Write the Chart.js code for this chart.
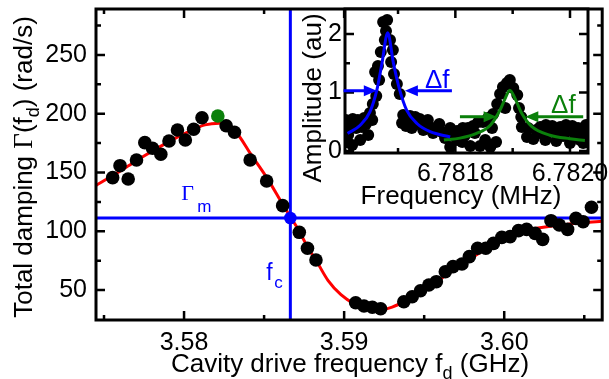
<!DOCTYPE html>
<html>
<head>
<meta charset="utf-8">
<script src="https://cdn.jsdelivr.net/npm/chart.js@4.4.0/dist/chart.umd.min.js"></script>
<style>
  html, body { margin: 0; padding: 0; background: #fff; }
  #wrap { position: relative; width: 609px; height: 379px; overflow: hidden; }
  #main { position: absolute; left: 0; top: 0; }
  #inset { position: absolute; left: 296px; top: 0; }
</style>
</head>
<body>
<div id="wrap">
  <canvas id="main" width="609" height="379"></canvas>
  <canvas id="inset" width="313" height="212"></canvas>
</div>
<script>
// ---- main panel: damping vs cavity drive frequency ----
const dampFreq = [3.57554, 3.57600, 3.57651, 3.57703, 3.57755, 3.57803, 3.57855, 3.57906, 3.57959, 3.58008,
  3.58060, 3.58112, 3.58263, 3.58315, 3.58413, 3.58516, 3.58616, 3.58720, 3.58771, 3.58824,
  3.59072, 3.59124, 3.59176, 3.59228, 3.59373, 3.59425, 3.59477, 3.59529, 3.59576, 3.59632,
  3.59680, 3.59736, 3.59782, 3.59834, 3.59885, 3.59933, 3.59985, 3.60037, 3.60089, 3.60140,
  3.60193, 3.60240, 3.60292, 3.60344, 3.60396, 3.60448, 3.60493, 3.60545];
const dampVal = [145.6, 155.8, 144.5, 160.6, 175.4, 170.6, 165.5, 176.8, 186.2, 177.7,
  186.8, 196.6, 189.8, 184.2, 160.6, 142.8, 121.8, 99.1, 85.5, 75.5,
  39.2, 36.4, 35.3, 34.1, 40.0, 44.3, 49.4, 54.3, 57.1, 65.6,
  69.9, 72.1, 78.4, 85.5, 85.5, 89.7, 94.8, 95.4, 100.5, 101.6,
  98.2, 93.1, 109.0, 105.3, 101.6, 111.0, 108.1, 120.4];
const maxFreq = [3.58211];
const maxVal = [198.1];
const fitFreq = [3.5745, 3.5755, 3.5765, 3.5775, 3.5785, 3.5795, 3.5805, 3.5813, 3.5822, 3.5832,
  3.5842, 3.5852, 3.5862, 3.5867, 3.5872, 3.5877, 3.5883, 3.5890, 3.5898, 3.5906,
  3.5914, 3.5922, 3.5930, 3.5938, 3.5946, 3.5955, 3.5965, 3.5975, 3.5985, 3.5995,
  3.6003, 3.6011, 3.6020, 3.6030, 3.6040, 3.6050, 3.6061];
const fitVal = [139, 147, 155.5, 164, 172, 179.5, 186, 190.5, 192, 185,
  165, 145, 122, 111, 100, 87, 74, 58, 46, 38.5,
  34.5, 33, 35.5, 40.5, 47, 54.5, 64, 73, 82, 90,
  96, 100, 102.5, 104.5, 106, 107.5, 108.5];
const fc = 3.58664;      // GHz
const gammaM = 111.3;    // rad/s
const xRange = [3.5745, 3.60612];
const yRange = [24.5, 289.1];
const xMajor = [3.58, 3.59, 3.60];
const xMinor = [3.575, 3.585, 3.595, 3.605];
const yMajor = [50, 100, 150, 200, 250];
const yMinor = [75, 125, 175, 225, 275];

// ---- inset: mechanical spectra ----
const specFreq = [6.781611, 6.781614, 6.781621, 6.781630, 6.781637, 6.781644, 6.781651, 6.781656, 6.781662, 6.781660,
  6.781665, 6.781670, 6.781674, 6.781681, 6.781679, 6.781691, 6.781688, 6.781693, 6.781698, 6.781703,
  6.781707, 6.781714, 6.781721, 6.781730, 6.781738, 6.781747, 6.781756, 6.781766, 6.781777, 6.781786,
  6.781794, 6.781803, 6.781812, 6.781791, 6.781609, 6.781803, 6.781813, 6.781822, 6.781831, 6.781843,
  6.781848, 6.781857, 6.781866, 6.781873, 6.781878, 6.781883, 6.781890, 6.781895, 6.781887, 6.781911,
  6.781915, 6.781916, 6.781925, 6.781936, 6.781948, 6.781958, 6.781969, 6.781983, 6.781993, 6.782004,
  6.782014, 6.782023, 6.782023, 6.782000, 6.781976, 6.781957, 6.781861, 6.781826, 6.781908, 6.781901,
  6.781677, 6.781667, 6.781686,
  6.781613, 6.781620, 6.781627, 6.781634, 6.781641, 6.781648, 6.781655, 6.781609, 6.781709, 6.781717,
  6.781724, 6.781735, 6.781744, 6.781752, 6.781761, 6.781772, 6.781782, 6.781791, 6.781799, 6.781817,
  6.781834, 6.781840, 6.781852, 6.781864, 6.781871, 6.781927, 6.781941, 6.781953, 6.781965, 6.781977,
  6.781988, 6.781997, 6.782009, 6.782018, 6.782028, 6.782028];
const specAmp = [0.154, 0.393, 0.547, 0.530, 0.410, 0.462, 0.650, 0.803, 0.940, 1.350,
  1.453, 1.692, 2.205, 2.239, 2.051, 1.726, 1.521, 1.316, 1.145, 0.974,
  0.479, 0.427, 0.598, 0.581, 0.547, 0.479, 0.410, 0.376, 0.325, 0.291,
  0.308, 0.188, 0.154, 0.068, 0.188, 0.342, 0.393, 0.393, 0.427, 0.085,
  0.496, 0.564, 0.632, 0.803, 0.974, 1.094, 1.162, 1.214, 0.735, 0.735,
  0.581, 0.410, 0.239, 0.205, 0.410, 0.444, 0.427, 0.410, 0.444, 0.427,
  0.393, 0.325, 0.137, 0.137, 0.171, 0.188, 0.068, 0.085, 0.957, 1.077,
  1.897, 1.214, 1.897,
  0.274, 0.103, 0.393, 0.188, 0.564, 0.274, 0.530, 0.530, 0.615, 0.513,
  0.393, 0.462, 0.359, 0.530, 0.308, 0.462, 0.222, 0.393, 0.256, 0.274,
  0.308, 0.496, 0.188, 0.393, 0.154, 0.393, 0.359, 0.291, 0.325, 0.308,
  0.256, 0.342, 0.274, 0.188, 0.444, 0.222];
const blueFitFreq = [6.781612, 6.781634, 6.781651, 6.781663, 6.781672, 6.781682, 6.781692, 6.781703, 6.781715, 6.781733, 6.781756, 6.781791];
const blueFitAmp = [0.30, 0.44, 0.67, 1.04, 1.50, 2.02, 1.50, 1.04, 0.70, 0.47, 0.33, 0.24];
const greenFitFreq = [6.781780, 6.781808, 6.781837, 6.781861, 6.781878, 6.781887, 6.781895, 6.781904, 6.781916, 6.781933, 6.781965, 6.782000, 6.782026];
const greenFitAmp = [0.19, 0.22, 0.30, 0.44, 0.70, 0.90, 1.04, 0.90, 0.64, 0.42, 0.27, 0.21, 0.18];
const insXRange = [6.7816075, 6.7820314];
const insYRange = [-0.034, 2.427];
const insXMajor = [6.7818, 6.7820];
const insXMinor = [6.7817, 6.7819];
const insYMajor = [0, 1, 2];
const insYMinor = [0.5, 1.5];

const SANS = '"Liberation Sans", Arial, sans-serif';
const SERIF = '"Liberation Serif", "Times New Roman", serif';
const BLUE = '#0000ff', RED = '#ff0000', GREEN = '#0b800b';

const pts = (xs, ys) => xs.map((x, i) => ({ x, y: ys[i] }));

// fixed axis box sizes, no extra label padding
const fixX = h => s => { s.height = h; s.paddingLeft = 0; s.paddingRight = 0; };
const fixY = w => s => { s.width = w; s.paddingTop = 0; s.paddingBottom = 0; };

// frame with inward ticks on all four sides
const frame = {
  id: 'frame',
  beforeDraw(chart, args, o) {
    if (!o.fill) return;
    const a = chart.chartArea, ctx = chart.ctx;
    ctx.save();
    ctx.fillStyle = '#fff';
    ctx.fillRect(a.left, a.top, a.right - a.left, a.bottom - a.top);
    ctx.restore();
  },
  afterDatasetsDraw(chart, args, o) {
    const a = chart.chartArea, ctx = chart.ctx;
    const xs = chart.scales.x, ys = chart.scales.y;
    ctx.save();
    ctx.strokeStyle = '#000';
    ctx.lineWidth = 2.5;
    const xt = (vals, len) => vals.forEach(v => {
      const p = xs.getPixelForValue(v);
      ctx.beginPath();
      ctx.moveTo(p, a.bottom); ctx.lineTo(p, a.bottom - len);
      ctx.moveTo(p, a.top); ctx.lineTo(p, a.top + len);
      ctx.stroke();
    });
    const yt = (vals, len) => vals.forEach(v => {
      const p = ys.getPixelForValue(v);
      ctx.beginPath();
      ctx.moveTo(a.left, p); ctx.lineTo(a.left + len, p);
      ctx.moveTo(a.right, p); ctx.lineTo(a.right - len, p);
      ctx.stroke();
    });
    xt(o.xMajor, o.major); xt(o.xMinor, o.minor);
    yt(o.yMajor, o.major); yt(o.yMinor, o.minor);
    ctx.lineWidth = 3;
    ctx.strokeRect(a.left, a.top, a.right - a.left, a.bottom - a.top);
    ctx.restore();
  }
};

// text drawn in pieces so subscripts work
function drawParts(ctx, parts, x, y, rot) {
  ctx.save();
  ctx.translate(x, y);
  if (rot) ctx.rotate(rot);
  ctx.textBaseline = 'alphabetic';
  ctx.textAlign = 'left';
  let w = 0;
  parts.forEach(p => { ctx.font = p.font; p.w = ctx.measureText(p.t).width; w += p.w; });
  let cx = -w / 2;
  parts.forEach(p => {
    ctx.font = p.font;
    ctx.fillStyle = p.color || '#000';
    ctx.fillText(p.t, cx, p.dy || 0);
    cx += p.w;
  });
  ctx.restore();
}

const texts = {
  id: 'texts',
  afterDraw(chart, args, o) {
    o.items.forEach(it => drawParts(chart.ctx, it.parts, it.x, it.y, it.rot));
    if (o.extra) o.extra(chart);
  }
};

const T = '26px ' + SANS, TS = '18px ' + SANS;

new Chart(document.getElementById('main'), {
  type: 'scatter',
  data: {
    datasets: [
      { data: pts([fc], [gammaM]), pointRadius: 6.3, backgroundColor: BLUE, borderWidth: 0, order: 0 },
      { data: pts(maxFreq, maxVal), pointRadius: 6.8, backgroundColor: GREEN, borderWidth: 0, order: 1 },
      { data: pts(dampFreq, dampVal), pointRadius: 6.8, backgroundColor: '#000', borderWidth: 0, order: 2 },
      { data: pts(fitFreq, fitVal), showLine: true, pointRadius: 0, borderColor: RED, borderWidth: 3,
        cubicInterpolationMode: 'monotone', order: 3 },
      { data: [{ x: fc, y: yRange[0] }, { x: fc, y: yRange[1] }], showLine: true, pointRadius: 0,
        borderColor: BLUE, borderWidth: 3, order: 4 },
      { data: [{ x: xRange[0], y: gammaM }, { x: xRange[1], y: gammaM }], showLine: true, pointRadius: 0,
        borderColor: BLUE, borderWidth: 3, order: 4 }
    ]
  },
  options: {
    responsive: false,
    animation: false,
    events: [],
    layout: { padding: { top: 9, right: 3, left: 0, bottom: 0 } },
    scales: {
      x: {
        type: 'linear', min: xRange[0], max: xRange[1],
        grid: { display: false, drawTicks: false }, border: { display: false },
        afterBuildTicks: s => { s.ticks = xMajor.map(v => ({ value: v })); },
        afterFit: fixX(59),
        ticks: { font: { family: SANS, size: 25 }, color: '#000', padding: 8, maxRotation: 0,
          callback: v => v.toFixed(2) }
      },
      y: {
        min: yRange[0], max: yRange[1],
        grid: { display: false, drawTicks: false }, border: { display: false },
        afterBuildTicks: s => { s.ticks = yMajor.map(v => ({ value: v })); },
        afterFit: fixY(96),
        ticks: { font: { family: SANS, size: 25 }, color: '#000', padding: 9 }
      }
    },
    plugins: {
      legend: { display: false },
      tooltip: { enabled: false },
      frame: { xMajor, xMinor, yMajor, yMinor, major: 9, minor: 5 },
      texts: {
        items: [
          { x: 350, y: 372, parts: [
            { t: 'Cavity drive frequency f', font: T },
            { t: 'd', font: TS, dy: 7 },
            { t: ' (GHz)', font: T } ] },
          { x: 32, y: 167, rot: -Math.PI / 2, parts: [
            { t: 'Total damping ', font: T },
            { t: 'Γ', font: '27px ' + SERIF },
            { t: '(f', font: T },
            { t: 'd', font: TS, dy: 7 },
            { t: ') (rad/s)', font: T } ] }
        ],
        extra: chart => {
          const ctx = chart.ctx, xs = chart.scales.x, ys = chart.scales.y;
          const px = xs.getPixelForValue(fc), py = ys.getPixelForValue(gammaM);
          ctx.save();
          ctx.fillStyle = BLUE;
          ctx.textBaseline = 'alphabetic';
          ctx.font = '22px ' + SERIF;
          ctx.fillText('Γ', px - 109, py - 18);
          ctx.font = '17px ' + SANS;
          ctx.fillText('m', px - 93, py - 6);
          ctx.font = '23px ' + SANS;
          ctx.fillText('f', px - 24, py + 62);
          ctx.font = '17px ' + SANS;
          ctx.fillText('c', px - 16, py + 70);
          ctx.restore();
        }
      }
    }
  },
  plugins: [frame, texts]
});

// arrows marking the linewidths
function arrow(ctx, x0, x1, y, color) {
  const dir = Math.sign(x1 - x0);
  ctx.strokeStyle = color; ctx.fillStyle = color; ctx.lineWidth = 3;
  ctx.beginPath(); ctx.moveTo(x0, y); ctx.lineTo(x1 - dir * 10, y); ctx.stroke();
  ctx.beginPath();
  ctx.moveTo(x1, y); ctx.lineTo(x1 - dir * 13, y - 5.5); ctx.lineTo(x1 - dir * 13, y + 5.5);
  ctx.closePath(); ctx.fill();
}

new Chart(document.getElementById('inset'), {
  type: 'scatter',
  data: {
    datasets: [
      { data: pts(blueFitFreq, blueFitAmp), showLine: true, pointRadius: 0, borderColor: BLUE, borderWidth: 3,
        cubicInterpolationMode: 'monotone', order: 0 },
      { data: pts(greenFitFreq, greenFitAmp), showLine: true, pointRadius: 0, borderColor: GREEN, borderWidth: 3,
        cubicInterpolationMode: 'monotone', order: 0 },
      { data: pts(specFreq, specAmp), pointRadius: 6, backgroundColor: '#000', borderWidth: 0, order: 1 }
    ]
  },
  options: {
    responsive: false,
    animation: false,
    events: [],
    layout: { padding: { top: 9, right: 21, left: 0, bottom: 0 } },
    scales: {
      x: {
        type: 'linear', min: insXRange[0], max: insXRange[1],
        grid: { display: false, drawTicks: false }, border: { display: false },
        afterBuildTicks: s => { s.ticks = insXMajor.map(v => ({ value: v })); },
        afterFit: fixX(59),
        ticks: { font: { family: SANS, size: 25 }, color: '#000', padding: 6, maxRotation: 0,
          callback: v => v.toFixed(4) }
      },
      y: {
        min: insYRange[0], max: insYRange[1],
        grid: { display: false, drawTicks: false }, border: { display: false },
        afterBuildTicks: s => { s.ticks = insYMajor.map(v => ({ value: v })); },
        afterFit: fixY(49),
        ticks: { font: { family: SANS, size: 25 }, color: '#000', padding: 3 }
      }
    },
    plugins: {
      legend: { display: false },
      tooltip: { enabled: false },
      frame: { xMajor: insXMajor, xMinor: insXMinor, yMajor: insYMajor, yMinor: insYMinor, major: 9, minor: 5, fill: true },
      texts: {
        items: [
          { x: 165, y: 204, parts: [{ t: 'Frequency (MHz)', font: T }] },
          { x: 25, y: 98, rot: -Math.PI / 2, parts: [{ t: 'Amplitude (au)', font: T }] }
        ],
        extra: chart => {
          const ctx = chart.ctx, xs = chart.scales.x, ys = chart.scales.y;
          const X = v => xs.getPixelForValue(v), Y = v => ys.getPixelForValue(v);
          ctx.save();
          arrow(ctx, X(6.781605), X(6.781663), Y(1.03), BLUE);
          arrow(ctx, X(6.781794), X(6.781712), Y(1.03), BLUE);
          arrow(ctx, X(6.781808), X(6.781872), Y(0.586), GREEN);
          arrow(ctx, X(6.782023), X(6.781922), Y(0.586), GREEN);
          ctx.font = '26px ' + SANS;
          ctx.textBaseline = 'alphabetic';
          ctx.fillStyle = BLUE;
          ctx.fillText('Δf', X(6.781747), Y(1.08));
          ctx.fillStyle = GREEN;
          ctx.fillText('Δf', X(6.781967), Y(0.65));
          ctx.restore();
        }
      }
    }
  },
  plugins: [frame, texts]
});
</script>
</body>
</html>
